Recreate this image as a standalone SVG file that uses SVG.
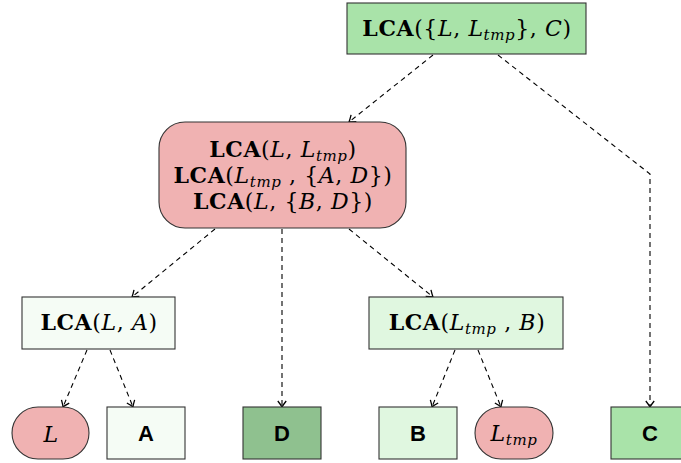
<svg xmlns="http://www.w3.org/2000/svg" width="681" height="463" viewBox="0 0 681 463">
<defs>
<style>
.n{stroke:#333;stroke-width:1.1}
.m{font-family:"DejaVu Serif","Liberation Serif",serif;font-size:22px;letter-spacing:0.6px;fill:#000;text-anchor:middle}
.b{font-weight:bold}
.i{font-style:italic}
.s{font-family:"Liberation Sans",Arial,sans-serif;font-weight:bold;font-size:22px;text-anchor:middle;fill:#000}
.e{fill:none;stroke:#000;stroke-width:1.1;stroke-dasharray:5,4}
</style>
<marker id="ar" viewBox="-8 -5 10 10" markerWidth="10" markerHeight="10" refX="0" refY="0" orient="auto" markerUnits="userSpaceOnUse">
<path d="M-6,-4.2 Q-1.8,-0.9 0,0 Q-1.8,0.9 -6,4.2" fill="none" stroke="#000" stroke-width="1.3" stroke-dasharray="none"/>
</marker>
</defs>
<rect width="681" height="463" fill="#fff"/>
<g id="edges">
<path class="e" d="M433,55 L349,122" marker-end="url(#ar)"/>
<path class="e" d="M498,55 L650,174 L650,407" marker-end="url(#ar)"/>
<path class="e" d="M215,229 L132,297" marker-end="url(#ar)"/>
<path class="e" d="M282,229 L282,407" marker-end="url(#ar)"/>
<path class="e" d="M349,229 L433,297" marker-end="url(#ar)"/>
<path class="e" d="M87,350 L63,407" marker-end="url(#ar)"/>
<path class="e" d="M110,350 L133,407" marker-end="url(#ar)"/>
<path class="e" d="M455,350 L432,407" marker-end="url(#ar)"/>
<path class="e" d="M478,350 L501,407" marker-end="url(#ar)"/>
</g>
<g id="root">
<rect class="n" x="347" y="3" width="239" height="51" fill="#a9e3a9"/>
<text class="m" x="467" y="36"><tspan class="b">LCA</tspan>({<tspan class="i">L</tspan>, <tspan class="i">L</tspan><tspan class="i" font-size="15" dy="4">tmp</tspan><tspan dy="-4">}, </tspan><tspan class="i">C</tspan>)</text>
</g>
<g id="mid">
<rect class="n" x="159" y="122" width="247" height="106" rx="26" fill="#f0b2b2"/>
<text class="m" x="283" y="157"><tspan class="b">LCA</tspan>(<tspan class="i">L</tspan>, <tspan class="i">L</tspan><tspan class="i" font-size="15" dy="4">tmp</tspan><tspan dy="-4">)</tspan></text>
<text class="m" x="283" y="183"><tspan class="b">LCA</tspan>(<tspan class="i">L</tspan><tspan class="i" font-size="15" dy="4">tmp</tspan><tspan dy="-4"> , {</tspan><tspan class="i">A</tspan>, <tspan class="i">D</tspan>})</text>
<text class="m" x="283" y="209"><tspan class="b">LCA</tspan>(<tspan class="i">L</tspan>, {<tspan class="i">B</tspan>, <tspan class="i">D</tspan>})</text>
</g>
<g id="lcaLA">
<rect class="n" x="22" y="297" width="153" height="52" fill="#f5fcf5"/>
<text class="m" x="99" y="330"><tspan class="b">LCA</tspan>(<tspan class="i">L</tspan>, <tspan class="i">A</tspan>)</text>
</g>
<g id="lcaLB">
<rect class="n" x="369" y="297" width="194" height="52" fill="#e0f7e0"/>
<text class="m" x="467" y="330"><tspan class="b">LCA</tspan>(<tspan class="i">L</tspan><tspan class="i" font-size="15" dy="4">tmp</tspan><tspan dy="-4"> , </tspan><tspan class="i">B</tspan>)</text>
</g>
<g id="L">
<rect class="n" x="12" y="407" width="77" height="52" rx="26" fill="#f0b2b2"/>
<text class="m i" x="51" y="442">L</text>
</g>
<g id="A">
<rect class="n" x="107" y="407" width="78" height="52" fill="#f5fcf5"/>
<text class="s" x="146" y="441">A</text>
</g>
<g id="D">
<rect class="n" x="243" y="407" width="78" height="52" fill="#8fc18f"/>
<text class="s" x="282" y="441">D</text>
</g>
<g id="B">
<rect class="n" x="379" y="407" width="78" height="52" fill="#e0f7e0"/>
<text class="s" x="418" y="441">B</text>
</g>
<g id="Ltmp">
<rect class="n" x="475" y="407" width="78" height="52" rx="26" fill="#f0b2b2"/>
<text class="m" x="514" y="441"><tspan class="i">L</tspan><tspan class="i" font-size="15" dy="4">tmp</tspan></text>
</g>
<g id="C">
<rect class="n" x="611" y="407" width="78" height="52" fill="#a9e3a9"/>
<text class="s" x="650" y="441">C</text>
</g>
</svg>
